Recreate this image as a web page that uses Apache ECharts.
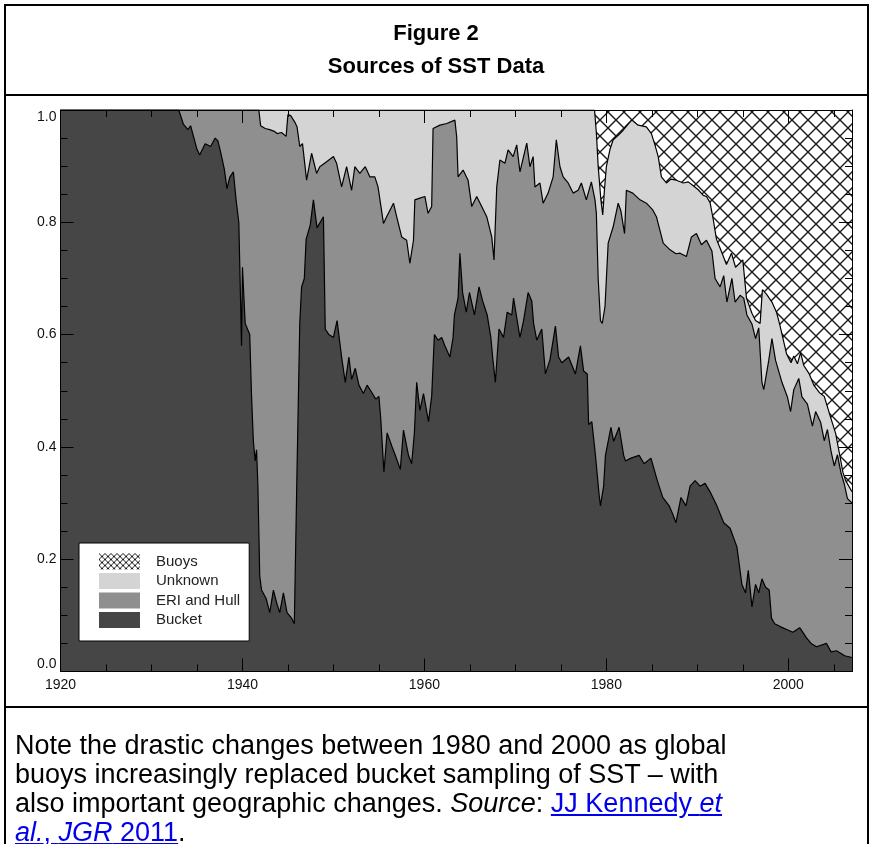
<!DOCTYPE html>
<html>
<head>
<meta charset="utf-8">
<title>Figure 2 - Sources of SST Data</title>
<script src="https://cdn.jsdelivr.net/npm/echarts@6/dist/echarts.min.js"></script>
<style>
  html, body { margin: 0; padding: 0; background: #fff; }
  #page { position: relative; width: 872px; height: 844px; overflow: hidden; font-family: Arial, "Liberation Sans", sans-serif; }
  #frame { position: absolute; left: 4px; top: 4px; width: 865px; height: 900px; border: 2px solid #000; box-sizing: border-box; }
  .sep { position: absolute; left: 4px; width: 865px; height: 2px; background: #000; }
  #title { position: absolute; left: 0; top: 16px; width: 872px; text-align: center; font-weight: bold; font-size: 22px; line-height: 33px; color: #000; }
  #chart { position: absolute; left: 0; top: 96px; width: 872px; height: 610px; }
  #caption { position: absolute; left: 15px; top: 731px; font-size: 27px; line-height: 29px; color: #000; white-space: nowrap; }
  #caption a { color: #0000ee; text-decoration: underline; }
</style>
</head>
<body>
<div id="page">
  <div id="chart"></div>
  <div id="frame"></div>
  <div class="sep" style="top:94px"></div>
  <div class="sep" style="top:706px"></div>
  <div id="title">Figure 2<br>Sources of SST Data</div>
  <div id="caption">Note the drastic changes between 1980 and 2000 as global<br>buoys increasingly replaced bucket sampling of SST – with<br>also important geographic changes. <i>Source</i>: <a href="#">JJ Kennedy <i>et</i><br><i>al.</i>, <i>JGR</i> 2011</a>.</div>
</div>
<script>
// fraction of SST observations, cumulative from the bottom: [year, share]
var bucketTop = [
  [1920, 1.0], [1933.0, 1.0], [1933.5, 0.975], [1934.0, 0.965], [1934.3, 0.972], [1935.0, 0.93],
  [1935.3, 0.92], [1935.9, 0.94], [1936.5, 0.935], [1937.0, 0.95], [1937.3, 0.945], [1937.6, 0.925],
  [1938.0, 0.895], [1938.3, 0.86], [1938.6, 0.88], [1939.0, 0.89], [1939.3, 0.84], [1939.6, 0.80],
  [1939.9, 0.58], [1940.0, 0.72], [1940.3, 0.62], [1940.8, 0.60], [1941.0, 0.49], [1941.2, 0.41],
  [1941.4, 0.375], [1941.55, 0.395], [1941.7, 0.33], [1941.9, 0.17], [1942.1, 0.145], [1942.6, 0.13],
  [1943.0, 0.105], [1943.4, 0.145], [1943.8, 0.12], [1944.1, 0.105], [1944.5, 0.14], [1944.9, 0.105],
  [1945.4, 0.095], [1945.7, 0.085], [1946.0, 0.36], [1946.3, 0.62], [1946.5, 0.685], [1946.8, 0.70],
  [1947.0, 0.77], [1947.45, 0.795], [1947.8, 0.84], [1948.2, 0.79], [1948.55, 0.80], [1948.9, 0.81],
  [1949.1, 0.61], [1949.5, 0.60], [1950.0, 0.595], [1950.4, 0.625], [1950.9, 0.56], [1951.3, 0.515],
  [1951.7, 0.56], [1952.0, 0.52], [1952.4, 0.54], [1952.8, 0.51], [1953.3, 0.495], [1953.7, 0.51],
  [1954.1, 0.50], [1954.65, 0.485], [1955.0, 0.49], [1955.2, 0.45], [1955.55, 0.355], [1955.9, 0.425],
  [1956.45, 0.40], [1956.8, 0.385], [1957.35, 0.36], [1957.7, 0.43], [1958.25, 0.385], [1958.6, 0.37],
  [1958.9, 0.425], [1959.15, 0.515], [1959.5, 0.465], [1959.9, 0.495], [1960.45, 0.445], [1960.8, 0.49],
  [1961.1, 0.60], [1961.5, 0.59], [1961.9, 0.595], [1962.25, 0.58], [1962.8, 0.56], [1963.15, 0.595],
  [1963.3, 0.635], [1963.7, 0.665], [1963.9, 0.745], [1964.2, 0.675], [1964.6, 0.64], [1964.95, 0.675],
  [1965.5, 0.635], [1966.0, 0.685], [1966.4, 0.66], [1966.9, 0.635], [1967.3, 0.595], [1967.5, 0.56],
  [1967.8, 0.515], [1968.2, 0.61], [1968.7, 0.595], [1969.1, 0.64], [1969.6, 0.635], [1969.8, 0.665],
  [1970.5, 0.595], [1970.9, 0.625], [1971.4, 0.675], [1971.8, 0.66], [1972.0, 0.62], [1972.35, 0.59],
  [1972.9, 0.61], [1973.3, 0.53], [1973.8, 0.555], [1974.4, 0.615], [1974.75, 0.56], [1975.1, 0.55],
  [1975.85, 0.56], [1976.6, 0.53], [1977.15, 0.58], [1977.5, 0.535], [1977.9, 0.53], [1978.05, 0.44],
  [1978.4, 0.445], [1978.8, 0.385], [1979.2, 0.315], [1979.35, 0.295], [1979.7, 0.33], [1979.9, 0.385],
  [1980.5, 0.435], [1980.8, 0.41], [1981.4, 0.435], [1981.9, 0.385], [1982.1, 0.375], [1982.7, 0.38],
  [1983.6, 0.385], [1984.15, 0.37], [1984.9, 0.38], [1985.6, 0.34], [1986.2, 0.31], [1986.9, 0.295],
  [1987.3, 0.28], [1987.65, 0.265], [1988.2, 0.31], [1988.75, 0.295], [1989.2, 0.33], [1989.75, 0.34],
  [1990.3, 0.33], [1990.85, 0.335], [1991.4, 0.32], [1992.15, 0.295], [1992.9, 0.265], [1993.6, 0.255],
  [1994.35, 0.222], [1994.9, 0.155], [1995.3, 0.14], [1995.6, 0.18], [1996.0, 0.115], [1996.4, 0.155],
  [1996.75, 0.14], [1997.1, 0.165], [1997.5, 0.15], [1997.9, 0.145], [1998.15, 0.095], [1998.5, 0.085],
  [1999.1, 0.08], [1999.95, 0.074], [2000.5, 0.07], [2001.25, 0.078], [2002.0, 0.06], [2002.5, 0.05],
  [2003.1, 0.044], [2004.2, 0.05], [2004.7, 0.035], [2005.3, 0.037], [2006.2, 0.028], [2007, 0.025]
];

var erHullTop = [
  [1920, 1.0], [1941.8, 1.0], [1942.0, 0.972], [1942.5, 0.967], [1943.0, 0.965], [1943.5, 0.962],
  [1943.8, 0.958], [1944.3, 0.96], [1944.8, 0.953], [1945.0, 0.992], [1945.3, 0.99], [1945.8, 0.977],
  [1946.0, 0.97], [1946.3, 0.935], [1946.6, 0.94], [1947.05, 0.875], [1947.6, 0.923], [1948.15, 0.887],
  [1948.5, 0.899], [1949.25, 0.908], [1950.0, 0.917], [1950.35, 0.905], [1950.9, 0.863], [1951.45, 0.899],
  [1952.0, 0.857], [1952.35, 0.899], [1952.9, 0.887], [1953.5, 0.899], [1954.0, 0.881], [1954.55, 0.881],
  [1954.9, 0.863], [1955.5, 0.798], [1955.85, 0.81], [1956.6, 0.834], [1956.95, 0.81], [1957.5, 0.774],
  [1958.05, 0.768], [1958.4, 0.727], [1958.8, 0.768], [1958.95, 0.84], [1959.5, 0.843], [1960.05, 0.846],
  [1960.4, 0.816], [1960.8, 0.828], [1960.95, 0.967], [1961.7, 0.973], [1962.45, 0.976], [1963.35, 0.982],
  [1963.55, 0.952], [1963.7, 0.881], [1964.25, 0.893], [1964.8, 0.875], [1965.2, 0.828], [1965.75, 0.846],
  [1966.3, 0.828], [1966.85, 0.81], [1967.4, 0.774], [1967.65, 0.733], [1967.95, 0.863], [1968.3, 0.911],
  [1968.85, 0.905], [1969.2, 0.929], [1969.75, 0.917], [1970.15, 0.938], [1970.5, 0.89], [1971.25, 0.941],
  [1971.6, 0.899], [1971.95, 0.917], [1972.15, 0.863], [1972.7, 0.87], [1973.05, 0.834], [1973.6, 0.852],
  [1974.15, 0.881], [1974.5, 0.947], [1974.9, 0.899], [1975.25, 0.881], [1975.8, 0.87], [1976.35, 0.852],
  [1976.9, 0.857], [1977.25, 0.87], [1977.8, 0.84], [1978.35, 0.872], [1978.75, 0.84], [1978.9, 0.816],
  [1979.1, 0.70], [1979.35, 0.625], [1979.55, 0.62], [1979.85, 0.65], [1980.2, 0.763], [1980.75, 0.792],
  [1981.3, 0.834], [1981.6, 0.82], [1982.0, 0.78], [1982.2, 0.857], [1982.9, 0.852], [1983.7, 0.84],
  [1984.4, 0.834], [1985.1, 0.822], [1985.5, 0.81], [1986.25, 0.763], [1987.0, 0.751], [1987.65, 0.744],
  [1988.1, 0.745], [1988.8, 0.739], [1989.35, 0.774], [1989.9, 0.78], [1990.45, 0.76], [1991.0, 0.768],
  [1991.6, 0.749], [1991.95, 0.70], [1992.5, 0.685], [1992.9, 0.705], [1993.25, 0.658], [1993.8, 0.70],
  [1994.15, 0.658], [1994.7, 0.67], [1995.1, 0.665], [1995.45, 0.635], [1996.0, 0.619], [1996.4, 0.593],
  [1996.75, 0.612], [1997.1, 0.515], [1997.3, 0.502], [1997.85, 0.554], [1998.2, 0.593], [1998.6, 0.554],
  [1999.3, 0.515], [1999.9, 0.489], [2000.25, 0.463], [2000.6, 0.502], [2001.15, 0.522], [2001.5, 0.489],
  [2002.1, 0.476], [2002.65, 0.437], [2003.0, 0.463], [2003.55, 0.444], [2003.95, 0.411], [2004.3, 0.431],
  [2004.7, 0.392], [2005.05, 0.366], [2005.4, 0.386], [2005.8, 0.353], [2006.15, 0.334], [2006.5, 0.308],
  [2007, 0.30]
];

var unknownTop = [
  [1920, 1.0], [1978.7, 1.0], [1978.9, 0.96], [1979.1, 0.90],
  [1979.4, 0.84], [1979.6, 0.813], [1979.8, 0.86], [1980.0, 0.899], [1980.4, 0.93], [1980.75, 0.947],
  [1981.3, 0.955], [1981.85, 0.964], [1982.4, 0.975], [1982.8, 0.982], [1983.5, 0.973], [1984.4, 0.97],
  [1984.95, 0.958], [1985.3, 0.94], [1985.7, 0.917], [1986.05, 0.881], [1986.6, 0.87], [1987.1, 0.877],
  [1987.7, 0.875], [1988.45, 0.87], [1989.0, 0.872], [1989.55, 0.865], [1990.1, 0.858], [1990.65, 0.848],
  [1991.0, 0.846], [1991.4, 0.835], [1991.75, 0.805], [1992.1, 0.77], [1992.65, 0.748], [1993.2, 0.725],
  [1993.75, 0.745], [1994.2, 0.72], [1994.7, 0.728], [1995.0, 0.733], [1995.4, 0.665], [1996.0, 0.638],
  [1996.4, 0.625], [1996.9, 0.62], [1997.15, 0.68], [1997.6, 0.672], [1998.2, 0.658], [1998.7, 0.64],
  [1999.1, 0.615], [1999.8, 0.566], [2000.3, 0.55], [2000.6, 0.562], [2001.0, 0.548], [2001.35, 0.568],
  [2001.7, 0.545], [2002.3, 0.53], [2002.8, 0.51], [2003.4, 0.497], [2003.95, 0.49], [2004.7, 0.45],
  [2005.2, 0.424], [2005.6, 0.39], [2006.0, 0.355], [2006.3, 0.34], [2007, 0.32]
];

// buoys fill the rest up to the total of 1
var buoysTop = [[1978.5, 1.0], [2007, 1.0]];

var seriesNames = ['Buoys', 'Unknown', 'ERI and Hull', 'Bucket'];
var yearRange = [1920, 2007];

// cross hatch tile for the buoys area
function hatch(size, lw) {
  var c = document.createElement('canvas');
  c.width = size; c.height = size;
  var g = c.getContext('2d');
  g.fillStyle = '#fff';
  g.fillRect(0, 0, size, size);
  g.strokeStyle = '#1a1a1a';
  g.lineWidth = lw;
  g.beginPath();
  for (var dx = -size; dx <= size; dx += size) {
    g.moveTo(dx, 0); g.lineTo(dx + size, size);
    g.moveTo(dx + size, 0); g.lineTo(dx, size);
  }
  g.stroke();
  return { image: c, repeat: 'repeat' };
}
var bigHatch = hatch(16, 1.4);
var smallHatch = hatch(6, 1);

var fills = { 'Buoys': bigHatch, 'Unknown': '#d4d4d4', 'ERI and Hull': '#8f8f8f', 'Bucket': '#464646' };
var tops = { 'Buoys': buoysTop, 'Unknown': unknownTop, 'ERI and Hull': erHullTop, 'Bucket': bucketTop };
var legendFills = { 'Buoys': smallHatch, 'Unknown': '#d4d4d4', 'ERI and Hull': '#8f8f8f', 'Bucket': '#464646' };

var chart = echarts.init(document.getElementById('chart'), null, { renderer: 'canvas' });

function xAx(pos, step, len, labels) {
  return {
    type: 'value', position: pos, min: yearRange[0], max: yearRange[1], interval: step, z: 5,
    axisLine: { show: true, onZero: false, lineStyle: { color: '#000', width: 1 } },
    axisTick: { show: true, inside: true, length: len, lineStyle: { color: '#000', width: 1 } },
    axisLabel: { show: labels, color: '#111', fontSize: 14, margin: 7, showMaxLabel: false,
      fontFamily: 'Arial, Liberation Sans, sans-serif',
      formatter: function (v) { return String(v); } },
    splitLine: { show: false }
  };
}
function yAx(pos, labels) {
  return {
    type: 'value', position: pos, min: 0, max: 1, interval: 0.2, z: 5,
    axisLine: { show: true, onZero: false, lineStyle: { color: '#000', width: 1 } },
    axisTick: { show: true, inside: true, length: 13, lineStyle: { color: '#000', width: 1 } },
    minorTick: { show: true, splitNumber: 4, length: 7, lineStyle: { color: '#000', width: 1 } },
    axisLabel: { show: labels, color: '#111', fontSize: 14, margin: 4,
      verticalAlignMinLabel: 'bottom', verticalAlignMaxLabel: 'top',
      fontFamily: 'Arial, Liberation Sans, sans-serif',
      formatter: function (v) { return v.toFixed(1); } },
    splitLine: { show: false }
  };
}

var option = {
  animation: false,
  grid: { left: 60.5, top: 14, width: 791.5, height: 561.5 },
  xAxis: [xAx('bottom', 20, 13, true), xAx('bottom', 5, 7, false), xAx('top', 20, 13, false), xAx('top', 5, 7, false)],
  yAxis: [yAx('left', true), yAx('right', false)],
  legend: {
    orient: 'vertical', left: 79, top: 447, z: 10,
    backgroundColor: '#fff', borderColor: '#000', borderWidth: 1,
    padding: [10.5, 9, 13, 20],
    itemWidth: 41, itemHeight: 16, itemGap: 3.5,
    icon: 'rect', selectedMode: false,
    itemStyle: { borderWidth: 0 },
    textStyle: { fontSize: 15, lineHeight: 16, color: '#222', padding: [0, 0, 0, 11], fontFamily: 'Arial, Liberation Sans, sans-serif' },
    data: seriesNames.map(function (n) { return { name: n, itemStyle: { color: legendFills[n], borderWidth: 0 } }; })
  },
  series: seriesNames.map(function (n) {
    return {
      name: n, type: 'line', xAxisIndex: 0, yAxisIndex: 0,
      data: tops[n], symbol: 'none', silent: true,
      lineStyle: n === 'Buoys' ? { width: 0, color: '#000' } : { width: 1.2, color: '#000' },
      itemStyle: { color: '#000' },
      areaStyle: { color: fills[n], opacity: 1 }
    };
  })
};
chart.setOption(option);
</script>
</body>
</html>
